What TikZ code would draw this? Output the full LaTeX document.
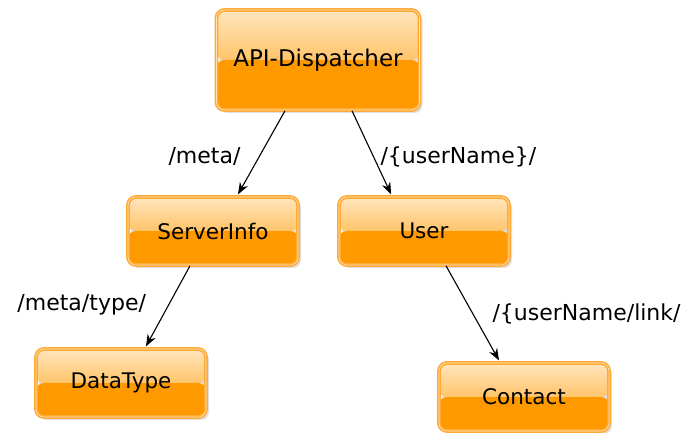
\documentclass[tikz,border=0pt]{standalone}
\usepackage{fontspec}
\setmainfont{DejaVu Sans}
\usepackage{tikz}
\usetikzlibrary{arrows.meta, positioning, shadows}

\definecolor{boxorange}{HTML}{FF9900}
\definecolor{boxedge}{HTML}{FFAA33}
\definecolor{boxtop}{HTML}{FFE5BE}
\definecolor{boxmid}{HTML}{FFC46A}

\begin{document}
\begin{tikzpicture}[x=1pt, y=1pt]
        % Styles
        \tikzstyle{resource} = [draw=boxedge, line width=1.6pt, double=boxtop, double distance=0.6pt,
            rounded corners=8pt, minimum width=170pt, minimum height=68pt, font=\fontsize{21.5}{24}\selectfont,
            drop shadow={opacity=0.25, shadow xshift=3pt, shadow yshift=-3pt},
            path picture={
                \fill[boxorange] (path picture bounding box.west) rectangle (path picture bounding box.south east);
                \shade[top color=boxtop, bottom color=boxmid] (path picture bounding box.north west) rectangle (path picture bounding box.east);
            }]
        \tikzstyle{arrow} = [-{Stealth[length=12pt, width=9pt]}, line width=1.1pt, shorten >=2pt]
        \tikzstyle{route} = [font=\fontsize{22}{24}\selectfont, inner sep=2pt]

        \useasboundingbox (0,0) rectangle (689,433);

        % Nodes
        \node [resource, minimum width=203pt, minimum height=100pt, font=\fontsize{23}{26}\selectfont] (dispatcher) at (318,373) {API-Dispatcher};
        \node [resource] (serverinfo) at (213,202) {ServerInfo};
        \node [resource] (user) at (424,202) {User};
        \node [resource] (datatype) at (121,50) {DataType};
        \node [resource] (contact) at (524,36) {Contact};

        % Arrows
        \draw [arrow] ([xshift=-33pt]dispatcher.south) -- node [route, midway, anchor=east, xshift=-18pt, yshift=-3pt] {/meta/} ([xshift=24pt]serverinfo.north);
        \draw [arrow] ([xshift=34pt]dispatcher.south) -- node [route, midway, anchor=west, xshift=6pt, yshift=-3pt] {/\{userName\}/} ([xshift=-32pt]user.north);
        \draw [arrow] ([xshift=-23pt]serverinfo.south) -- node [route, midway, anchor=east, xshift=-19pt, yshift=2pt] {/meta/type/} ([xshift=24pt]datatype.north);
        \draw [arrow] ([xshift=22pt]user.south) -- node [route, midway, anchor=west, xshift=17pt, yshift=0pt] {/\{userName/link/} ([xshift=-24pt]contact.north);
\end{tikzpicture}
\end{document}
